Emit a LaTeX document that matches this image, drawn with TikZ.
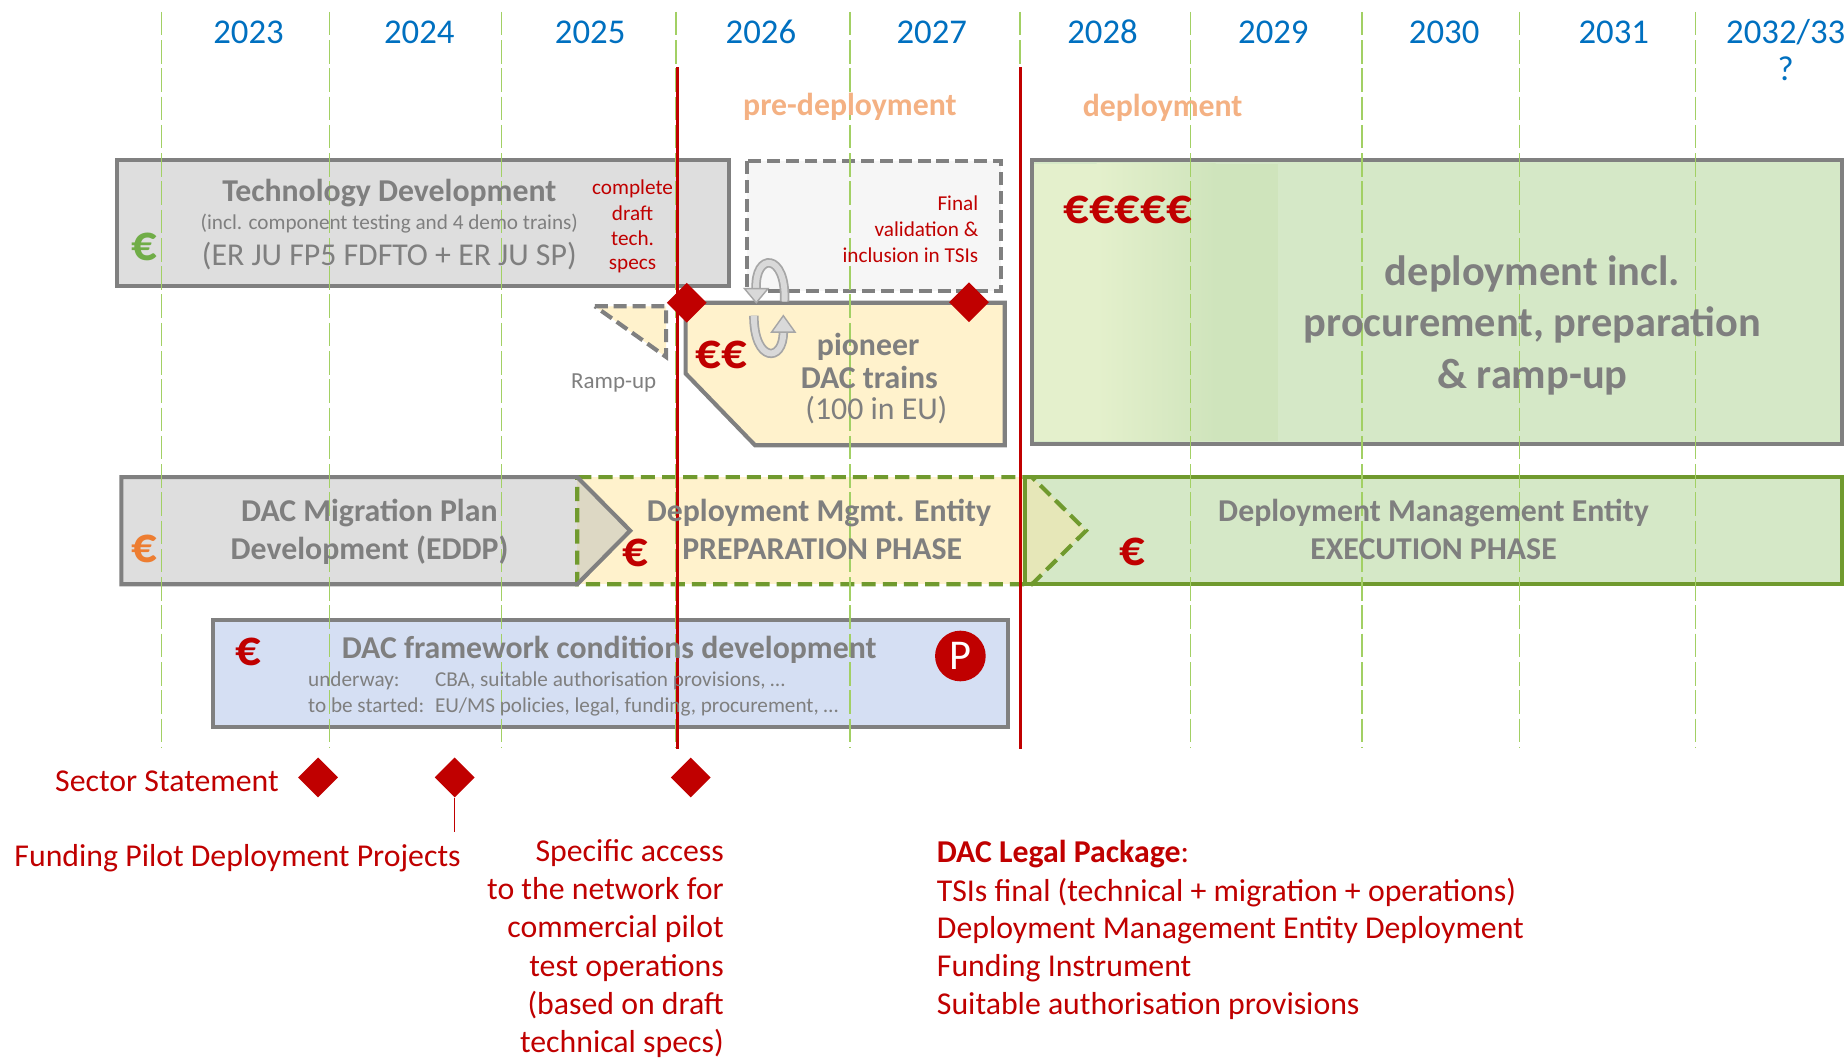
\documentclass[tikz,border=0pt]{standalone}
\usepackage{fontspec}
\setmainfont{Carlito}
\usetikzlibrary{shapes.geometric}
\definecolor{bgray}{HTML}{808080}
\definecolor{tgray}{HTML}{7F7F7F}
\definecolor{lgray}{HTML}{DEDEDE}
\definecolor{vfill}{HTML}{F6F6F6}
\definecolor{ylw}{HTML}{FFF2CC}
\definecolor{lgreen}{HTML}{D5E8C7}
\definecolor{lgA}{HTML}{E4F0CC}
\definecolor{lgB}{HTML}{CFE4BC}
\definecolor{olive}{HTML}{709A2E}
\definecolor{tipmix}{HTML}{DDD8C4}
\definecolor{chevmix}{HTML}{E6E7B8}
\definecolor{lblue}{HTML}{D5DFF3}
\definecolor{dred}{HTML}{C00000}
\definecolor{yblue}{HTML}{0070C0}
\definecolor{otxt}{HTML}{F4B183}
\definecolor{eurogreen}{HTML}{70AD47}
\definecolor{euroorange}{HTML}{ED7D31}
\definecolor{gridg}{HTML}{A2D064}
\definecolor{iconlight}{HTML}{D9D9D9}
\definecolor{icondark}{HTML}{A6A6A6}
\begin{document}
\begin{tikzpicture}[x=1pt,y=-1pt,
  gridline/.style={draw=gridg, line width=1.1pt, dash pattern=on 20pt off 4pt},
  redline/.style={draw=dred, line width=2.4pt},
  boxline/.style={draw=bgray, line width=3.5pt, line join=miter},
  graydash/.style={draw=bgray, line width=3.5pt, dash pattern=on 11pt off 5pt},
  olivedash/.style={draw=olive, line width=3.5pt, dash pattern=on 12pt off 6pt},
  milestone/.style={diamond, aspect=1, fill=dred, minimum width=34pt, minimum height=34pt, inner sep=0pt},
  txt/.style={inner sep=0pt, outer sep=0pt},
  yr/.style={txt, text=yblue, font=\fontsize{29.5}{34}\selectfont, anchor=base},
  phase/.style={txt, text=otxt, font=\bfseries\fontsize{27}{33}\selectfont, anchor=base},
  gtitle/.style={txt, text=tgray, font=\bfseries\fontsize{27}{33}\selectfont, anchor=base},
  greg/.style={txt, text=tgray, font=\fontsize{27}{33}\selectfont, anchor=base},
  gsmall/.style={txt, text=tgray, font=\fontsize{18}{22}\selectfont, anchor=base},
  gbig/.style={txt, text=tgray, font=\bfseries\fontsize{36}{44}\selectfont, anchor=base},
  rsmall/.style={txt, text=dred, font=\fontsize{18}{22}\selectfont, anchor=base},
  rtext/.style={txt, text=dred, font=\fontsize{27}{33}\selectfont},
  euro/.style={txt, font=\bfseries\fontsize{43}{48}\selectfont, anchor=base},
]
\useasboundingbox (0,0) rectangle (1568,899);
\fill[white] (0,0) rectangle (1568,899);

% ---------- top row boxes ----------
\filldraw[fill=lgray, boxline] (99,136) rectangle (619,243);
\filldraw[fill=vfill, graydash] (634,137) rectangle (850,247);
\filldraw[fill=ylw, graydash] (505,260) -- (565.5,260) -- (565.5,303) -- cycle;
\filldraw[fill=ylw, boxline] (582,257) -- (853,257) -- (853,378) -- (641,378) -- (582,317) -- cycle;

% deployment box
\fill[lgreen] (876,136) rectangle (1564,377);
\fill[lgA] (878,139) rectangle (931,374);
\shade[left color=lgA, right color=lgB] (931,139) rectangle (1032,374);
\fill[lgB] (1032,139) rectangle (1085,374);
\draw[boxline] (876,136) rectangle (1564,377);

% ---------- middle row ----------
\fill[lgreen] (870,405) rectangle (1564,496);
\fill[ylw] (490,405) rectangle (870,496);
\fill[chevmix] (870,405) -- (876,405) -- (922,450.5) -- (876,496) -- (870,496) -- cycle;
\fill[lgray] (103,405) rectangle (490,496);
\fill[tipmix] (490,405) -- (535,450.5) -- (490,496) -- cycle;
\draw[draw=olive, line width=3.5pt] (870,405) rectangle (1564,496);
\draw[olivedash] (490,405) -- (876,405) -- (922,450.5) -- (876,496) -- (490,496) -- cycle;
\draw[boxline] (103,405) -- (490,405) -- (535,450.5) -- (490,496) -- (103,496) -- cycle;

% ---------- framework box ----------
\filldraw[fill=lblue, boxline] (181,526) rectangle (856,617);

% ---------- grid lines ----------
\foreach \gx in {137,280,426,574,721.6,866,1010.4,1156.2,1290,1439.6}
  \draw[gridline] (\gx,10) -- (\gx,635);

% ---------- red milestone lines ----------
\draw[redline] (575,57) -- (575,636);
\draw[redline] (866,57) -- (866,636);

% ---------- rotation icon ----------
\draw[icondark, line width=8pt] (666,256) .. controls (668,214) and (640,214) .. (642,246);
\draw[iconlight, line width=5pt] (666,256) .. controls (668,214) and (640,214) .. (642,246);
\filldraw[fill=iconlight, draw=icondark, line width=1.2pt] (632,245) -- (652,245) -- (642,257) -- cycle;
\draw[icondark, line width=8pt] (640,268) .. controls (640,308) and (665,308) .. (665,282);
\draw[iconlight, line width=5pt] (640,268) .. controls (640,308) and (665,308) .. (665,282);
\filldraw[fill=iconlight, draw=icondark, line width=1.2pt] (655,282) -- (675,282) -- (665,268) -- cycle;

% ---------- milestones ----------
\node[milestone] (m1) at (583,257) {};
\node[milestone] (m2) at (822.6,256.6) {};
\node[milestone] (m3) at (270,660) {};
\node[milestone] (m4) at (386,660) {};
\node[milestone] (m5) at (586.4,660) {};
\coordinate (fundtop) at (386,706);
\draw[dred, line width=1pt] (m4.south) -- (fundtop);
\node[circle, fill=dred, minimum size=43pt, inner sep=0pt, text=white, font=\fontsize{36}{40}\selectfont] (pc) at (815.3,556.9) {P};

% ---------- years ----------
\node[yr] (y23) at (211,37) {2023};
\node[yr] (y24) at (356,37) {2024};
\node[yr] (y25) at (501,37) {2025};
\node[yr] (y26) at (646,37) {2026};
\node[yr] (y27) at (791,37) {2027};
\node[yr] (y28) at (936,37) {2028};
\node[yr] (y29) at (1081,37) {2029};
\node[yr] (y30) at (1226,37) {2030};
\node[yr] (y31) at (1370,37) {2031};
\node[yr] (y32) at (1516,37) {2032/33};
\node[yr] (yq) at (1516,68) {?};
\node[phase] (pre) at (721.5,98) {pre-deployment};
\node[phase] (dep) at (987,99) {deployment};

% ---------- technology development ----------
\node[gtitle] (td1) at (330.5,171) {Technology Development};
\node[gsmall] (td2) at (330.5,194.6) {(incl. component testing and 4 demo trains)};
\node[greg] (td3) at (330.5,225) {(ER JU FP5 FDFTO + ER JU SP)};
\node[euro, text=eurogreen] (eu1) at (122.5,221) {€};
\node[rsmall] (cs1) at (537,164.7) {complete};
\node[rsmall] (cs2) at (537,186.8) {draft};
\node[rsmall] (cs3) at (537,208) {tech.};
\node[rsmall] (cs4) at (537,228.6) {specs};
\node[rsmall, anchor=base east] (fv1) at (830.5,179) {Final};
\node[rsmall, anchor=base east] (fv2) at (830.5,201) {validation \&};
\node[rsmall, anchor=base east] (fv3) at (830.5,223) {inclusion in TSIs};
\node[txt, text=tgray, font=\fontsize{19.5}{23}\selectfont, anchor=base] (ramp) at (521,329.6) {Ramp-up};

% ---------- pioneer ----------
\node[euro, text=dred] (eu2) at (612.6,313) {€€};
\node[gtitle] (pi1) at (737,302.2) {pioneer};
\node[gtitle] (pi2) at (738,329.7) {DAC trains};
\node[greg] (pi3) at (744,356) {(100 in EU)};

% ---------- deployment ----------
\node[euro, text=dred] (eu3) at (957.4,189.5) {€€€€€};
\node[gbig] (dp1) at (1301,242) {deployment incl.};
\node[gbig] (dp2) at (1301,285.8) {procurement, preparation};
\node[gbig] (dp3) at (1301,329.7) {\& ramp-up};

% ---------- middle row texts ----------
\node[euro, text=euroorange] (eu4) at (122.6,477.5) {€};
\node[gtitle] (mp1) at (313.6,442.8) {DAC Migration Plan};
\node[gtitle] (mp2) at (313.8,474.8) {Development (EDDP)};
\node[euro, text=dred] (eu5) at (539.2,481) {€};
\node[gtitle] (pp1) at (695.3,442.8) {Deployment Mgmt. Entity};
\node[gtitle] (pp2) at (698,474.8) {PREPARATION PHASE};
\node[euro, text=dred] (eu6) at (961.3,480) {€};
\node[gtitle] (ex1) at (1217,442.8) {Deployment Management Entity};
\node[gtitle] (ex2) at (1217,475.4) {EXECUTION PHASE};

% ---------- framework ----------
\node[euro, text=dred] (eu7) at (210.7,565) {€};
\node[gtitle] (fw1) at (517.2,558.9) {DAC framework conditions development};
\node[gsmall, anchor=base west] (fw2) at (261.6,582.9) {underway:};
\node[gsmall, anchor=base west] (fw3) at (369.3,582.9) {CBA, suitable authorisation provisions, …};
\node[gsmall, anchor=base west] (fw4) at (261.6,605) {to be started:};
\node[gsmall, anchor=base west] (fw5) at (369.3,605) {EU/MS policies, legal, funding, procurement, …};

% ---------- bottom texts ----------
\node[rtext, anchor=base east] (ss) at (236.6,672) {Sector Statement};
\node[rtext, anchor=base west] (fp) at (12.3,735.7) {Funding Pilot Deployment Projects};
\node[rtext, anchor=base east] (sa1) at (614.4,731.5) {Specific access};
\node[rtext, anchor=base east] (sa2) at (614.4,763.7) {to the network for};
\node[rtext, anchor=base east] (sa3) at (614.4,796) {commercial pilot};
\node[rtext, anchor=base east] (sa4) at (614.4,828.7) {test operations};
\node[rtext, anchor=base east] (sa5) at (614.4,861.4) {(based on draft};
\node[rtext, anchor=base east] (sa6) at (614.4,893.5) {technical specs)};
\node[rtext, anchor=base west] (lp1) at (795.4,732.3) {\textbf{DAC Legal Package}:};
\node[rtext, anchor=base west] (lp2) at (795.4,764.9) {TSIs final (technical + migration + operations)};
\node[rtext, anchor=base west] (lp3) at (795.4,796.5) {Deployment Management Entity Deployment};
\node[rtext, anchor=base west] (lp4) at (795.4,829.1) {Funding Instrument};
\node[rtext, anchor=base west] (lp5) at (795.4,861.6) {Suitable authorisation provisions};
\end{tikzpicture}
\end{document}
